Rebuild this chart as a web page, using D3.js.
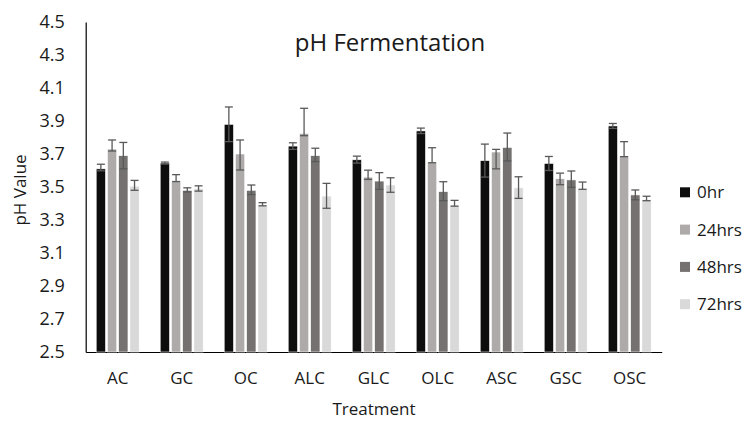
<html><head>
<meta charset="utf-8">
<title>pH Fermentation</title>
<style>
  body { margin: 0; background: #fff; }
  text { font-family: "Open Sans", sans-serif; fill: #1a1a1a; }
</style>
<script src="https://d3js.org/d3.v7.min.js"></script>
</head>
<body>
<div id="chart"></div>
<script>
// data
const treatments = ["AC", "GC", "OC", "ALC", "GLC", "OLC", "ASC", "GSC", "OSC"];
const series = ["0hr", "24hrs", "48hrs", "72hrs"];
const colors = ["#0d0d0d", "#aeaaaa", "#767171", "#d9d9d9"];

const ph0  = [3.61, 3.645, 3.88, 3.748, 3.665, 3.84, 3.66, 3.643, 3.87];
const ph24 = [3.73, 3.535, 3.70, 3.825, 3.56, 3.65, 3.712, 3.55, 3.688];
const ph48 = [3.69, 3.48, 3.48, 3.69, 3.536, 3.472, 3.74, 3.543, 3.452];
const ph72 = [3.505, 3.49, 3.39, 3.445, 3.512, 3.387, 3.495, 3.49, 3.422];

// error bar extents (plus / minus)
const up0   = [0.028, 0.006, 0.105, 0.02, 0.022, 0.017, 0.10, 0.042, 0.015];
const down0 = [0.012, 0.006, 0.105, 0.02, 0.02, 0.016, 0.10, 0.043, 0.015];
const up24   = [0.055, 0.04, 0.085, 0.152, 0.042, 0.088, 0.016, 0.034, 0.087];
const down24 = [0.012, 0.002, 0.097, 0.014, 0.014, 0.003, 0.102, 0.036, 0.004];
const up48   = [0.08, 0.015, 0.032, 0.045, 0.051, 0.06, 0.087, 0.054, 0.03];
const down48 = [0.08, 0.01, 0.026, 0.036, 0.05, 0.055, 0.082, 0.045, 0.03];
const up72   = [0.035, 0.017, 0.015, 0.077, 0.044, 0.032, 0.067, 0.04, 0.022];
const down72 = [0.025, 0.015, 0.004, 0.074, 0.044, 0.003, 0.064, 0.004, 0.005];

const yTicks = d3.range(2.5, 4.51, 0.2);

const values = [ph0, ph24, ph48, ph72];
const ups = [up0, up24, up48, up72];
const downs = [down0, down24, down48, down72];

const W = 745, H = 421;
const plotLeft = 85.7, plotRight = 661.7, plotTop = 22, plotBottom = 352;

const svg = d3.select("#chart").append("svg")
  .attr("width", W).attr("height", H);

const x0 = d3.scaleBand().domain(treatments).range([plotLeft, plotRight]);
const x1 = d3.scaleBand().domain(series)
  .range([10.5, x0.bandwidth() - 10.5]).paddingInner(0.17);
const y = d3.scaleLinear().domain([2.5, 4.5]).range([plotBottom, plotTop]);

// title
svg.append("text")
  .attr("x", 390).attr("y", 51)
  .attr("text-anchor", "middle")
  .attr("font-size", 24)
  .text("pH Fermentation");

// y axis
const yAxis = svg.append("g")
  .attr("transform", `translate(${plotLeft},0)`)
  .call(d3.axisLeft(y).tickValues(yTicks).tickFormat(d3.format(".1f")).tickSize(0).tickPadding(21));
yAxis.select(".domain").attr("stroke", "#000").attr("stroke-width", 1.2);
yAxis.selectAll("text").attr("font-size", 18).attr("font-family", "Open Sans").attr("fill", "#1a1a1a");

// x axis
const xAxis = svg.append("g")
  .attr("transform", `translate(0,${plotBottom})`)
  .call(d3.axisBottom(x0).tickSize(0).tickPadding(20));
xAxis.select(".domain").attr("stroke", "#000").attr("stroke-width", 1.2);
xAxis.selectAll("text").attr("font-size", 17).attr("font-family", "Open Sans").attr("fill", "#1a1a1a");

// axis titles
svg.append("text")
  .attr("x", 374).attr("y", 415)
  .attr("text-anchor", "middle")
  .attr("font-size", 17)
  .text("Treatment");

svg.append("text")
  .attr("transform", "translate(26,190) rotate(-90)")
  .attr("text-anchor", "middle")
  .attr("font-size", 17)
  .text("pH Value");

// bars
const groups = svg.append("g").selectAll("g")
  .data(treatments)
  .join("g")
  .attr("transform", d => `translate(${x0(d)},0)`);

groups.selectAll("rect")
  .data((t, i) => series.map((s, k) => ({ s, k, v: values[k][i] })))
  .join("rect")
  .attr("x", d => x1(d.s))
  .attr("width", x1.bandwidth())
  .attr("y", d => y(d.v))
  .attr("height", d => plotBottom - y(d.v))
  .attr("fill", d => colors[d.k])
  .attr("stroke", "#fff")
  .attr("stroke-width", 0.6);

// error bars
const errs = groups.selectAll("g.err")
  .data((t, i) => series.map((s, k) => ({
    s, hi: values[k][i] + ups[k][i], lo: values[k][i] - downs[k][i]
  })))
  .join("g")
  .attr("class", "err")
  .attr("stroke", "#595959")
  .attr("stroke-width", 1.3);

errs.append("line")
  .attr("x1", d => x1(d.s) + x1.bandwidth() / 2)
  .attr("x2", d => x1(d.s) + x1.bandwidth() / 2)
  .attr("y1", d => y(d.hi))
  .attr("y2", d => y(d.lo));
errs.append("line")
  .attr("x1", d => x1(d.s) + x1.bandwidth() / 2 - 4)
  .attr("x2", d => x1(d.s) + x1.bandwidth() / 2 + 4)
  .attr("y1", d => y(d.hi)).attr("y2", d => y(d.hi));
errs.append("line")
  .attr("x1", d => x1(d.s) + x1.bandwidth() / 2 - 4)
  .attr("x2", d => x1(d.s) + x1.bandwidth() / 2 + 4)
  .attr("y1", d => y(d.lo)).attr("y2", d => y(d.lo));

// legend
const legend = svg.append("g").selectAll("g")
  .data(series)
  .join("g")
  .attr("transform", (d, i) => `translate(680,${192.3 + i * 37.3})`);
legend.append("rect")
  .attr("x", 0).attr("y", -5)
  .attr("width", 10).attr("height", 10)
  .attr("fill", (d, i) => colors[i]);
legend.append("text")
  .attr("x", 17).attr("dy", "0.36em")
  .attr("font-size", 17)
  .text(d => d);
</script>
</body></html>
